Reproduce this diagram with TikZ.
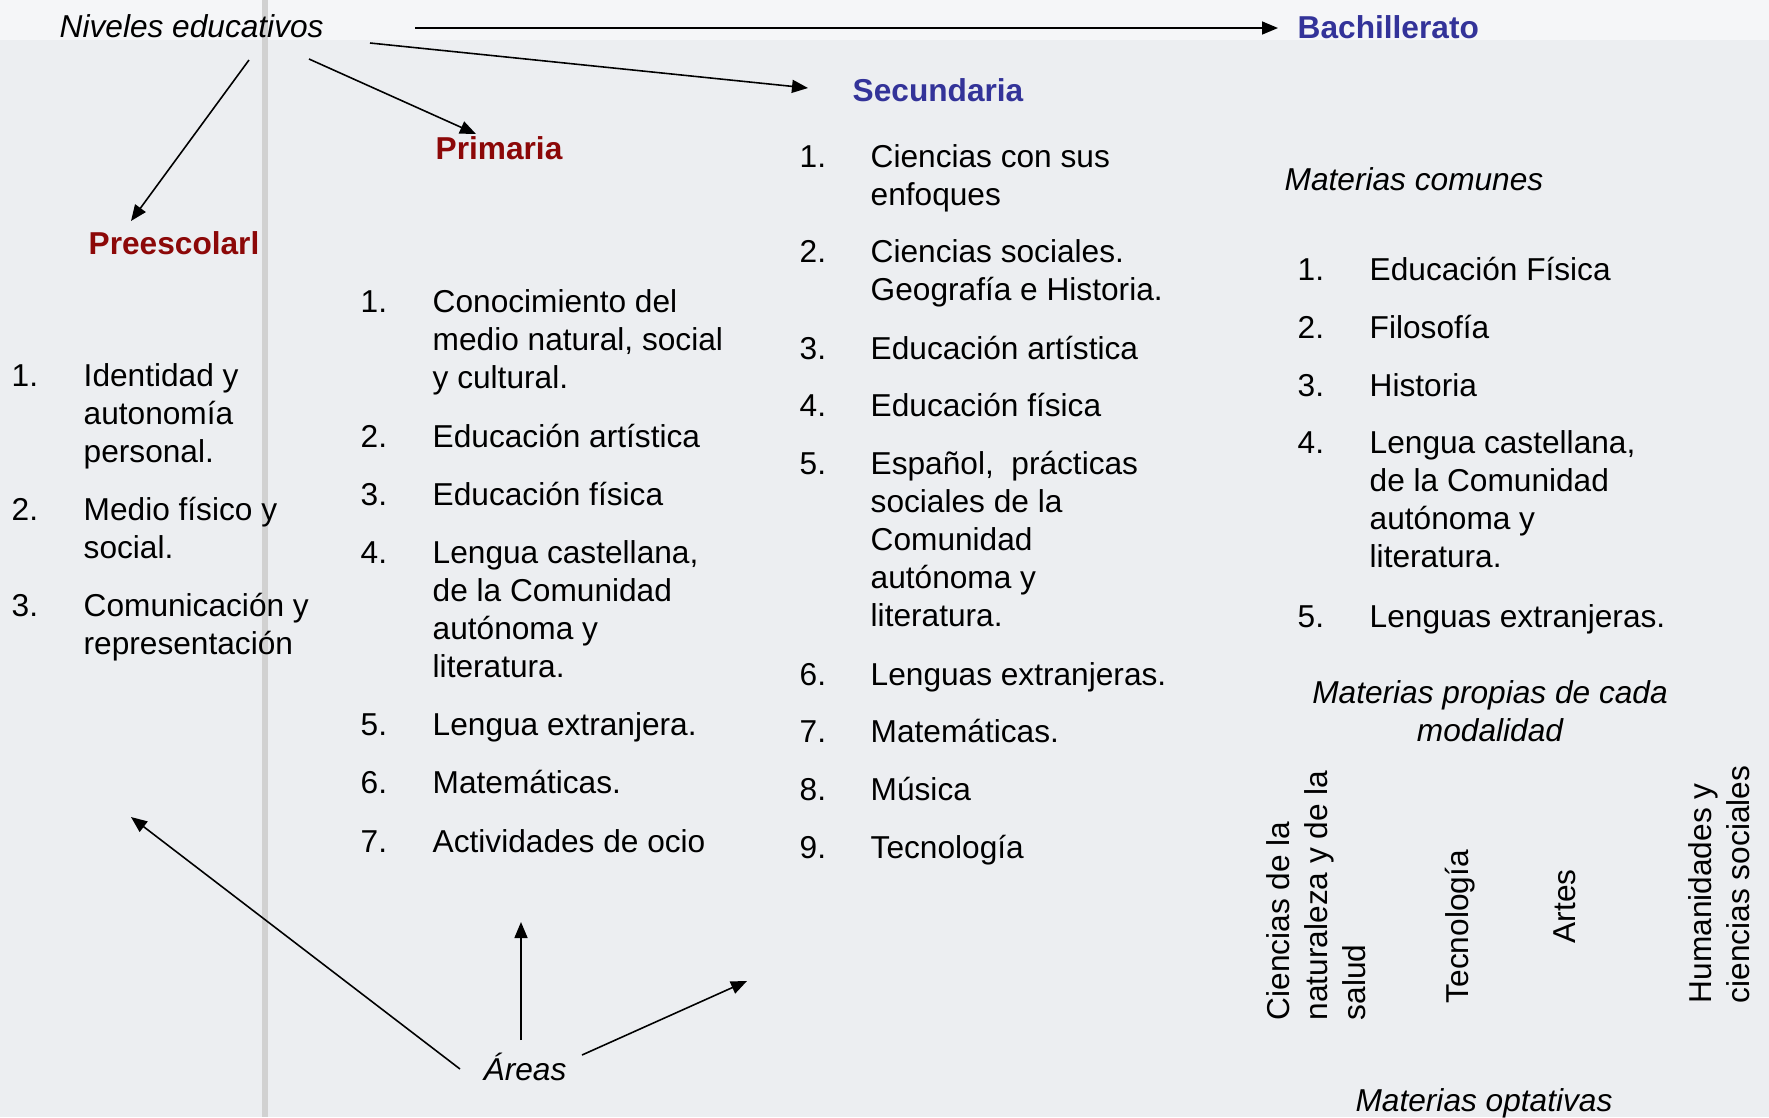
\documentclass[tikz,border=0pt]{standalone}
\usepackage{fontspec}
\setmainfont{Liberation Sans}
\usepackage{tikz}
\usetikzlibrary{arrows.meta}

\definecolor{headred}{RGB}{140,8,8}
\definecolor{headblue}{RGB}{51,51,153}
\definecolor{paper}{RGB}{236,238,241}

\begin{document}
\begin{tikzpicture}[x=0.01cm, y=-0.01cm,
  entry/.style={anchor=base west, align=left, inner sep=0pt, font=\fontsize{9}{10.8}\selectfont},
  level/.style={entry, font=\fontsize{9}{10.8}\selectfont\bfseries},
  note/.style={entry, font=\fontsize{9}{10.8}\selectfont\itshape},
  side/.style={entry, rotate=90},
  arr/.style={line width=0.45pt, -{Triangle[length=1.6mm, width=1.3mm]}}]

% paper (multi-line nodes sit on their last line)
\useasboundingbox (0,0) rectangle (1769,1117);
\fill[paper] (0,0) rectangle (1769,1117);
\fill[white, opacity=0.5] (0,0) rectangle (1769,40);
\draw[black!18, line width=1.5pt] (265,0) -- (265,1117);

% levels
\node[note] (niv) at (59,37) {Niveles educativos};
\node[level, text=headblue] (bach) at (1297,38) {Bachillerato};
\node[level, text=headblue] (sec) at (852,101) {Secundaria};
\node[level, text=headred] (pri) at (435,159) {Primaria};
\node[level, text=headred] (pre) at (88,254) {Preescolarl};

% Preescolar
\node[entry] (pre1n) at (11,386) {1.};
\node[entry] (pre1) at (83,462) {Identidad y\\autonomía\\personal.};
\node[entry] (pre2n) at (11,520) {2.};
\node[entry] (pre2) at (83,558) {Medio físico y\\social.};
\node[entry] (pre3n) at (11,616) {3.};
\node[entry] (pre3) at (83,654) {Comunicación y\\representación};

% Primaria
\node[entry] (pri1n) at (360,312) {1.};
\node[entry] (pri1) at (432,388) {Conocimiento del\\medio natural, social\\y cultural.};
\node[entry] (pri2n) at (360,447) {2.};
\node[entry] (pri2) at (432,447) {Educación artística};
\node[entry] (pri3n) at (360,505) {3.};
\node[entry] (pri3) at (432,505) {Educación física};
\node[entry] (pri4n) at (360,563) {4.};
\node[entry] (pri4) at (432,677) {Lengua castellana,\\de la Comunidad\\autónoma y\\literatura.};
\node[entry] (pri5n) at (360,735) {5.};
\node[entry] (pri5) at (432,735) {Lengua extranjera.};
\node[entry] (pri6n) at (360,793) {6.};
\node[entry] (pri6) at (432,793) {Matemáticas.};
\node[entry] (pri7n) at (360,852) {7.};
\node[entry] (pri7) at (432,852) {Actividades de ocio};

% Secundaria
\node[entry] (sec1n) at (799,167) {1.};
\node[entry] (sec1) at (870,205) {Ciencias con sus\\enfoques};
\node[entry] (sec2n) at (799,262) {2.};
\node[entry] (sec2) at (870,300) {Ciencias sociales.\\Geografía e Historia.};
\node[entry] (sec3n) at (799,359) {3.};
\node[entry] (sec3) at (870,359) {Educación artística};
\node[entry] (sec4n) at (799,416) {4.};
\node[entry] (sec4) at (870,416) {Educación física};
\node[entry] (sec5n) at (799,474) {5.};
\node[entry] (sec5) at (870,626) {Español,\ \ prácticas\\sociales de la\\Comunidad\\autónoma y\\literatura.};
\node[entry] (sec6n) at (799,685) {6.};
\node[entry] (sec6) at (870,685) {Lenguas extranjeras.};
\node[entry] (sec7n) at (799,742) {7.};
\node[entry] (sec7) at (870,742) {Matemáticas.};
\node[entry] (sec8n) at (799,800) {8.};
\node[entry] (sec8) at (870,800) {Música};
\node[entry] (sec9n) at (799,858) {9.};
\node[entry] (sec9) at (870,858) {Tecnología};

% Bachillerato
\node[note] (comunes) at (1284,190) {Materias comunes};
\node[entry] (bach1n) at (1297,280) {1.};
\node[entry] (bach1) at (1369,280) {Educación Física};
\node[entry] (bach2n) at (1297,338) {2.};
\node[entry] (bach2) at (1369,338) {Filosofía};
\node[entry] (bach3n) at (1297,396) {3.};
\node[entry] (bach3) at (1369,396) {Historia};
\node[entry] (bach4n) at (1297,453) {4.};
\node[entry] (bach4) at (1369,567) {Lengua castellana,\\de la Comunidad\\autónoma y\\literatura.};
\node[entry] (bach5n) at (1297,627) {5.};
\node[entry] (bach5) at (1369,627) {Lenguas extranjeras.};
\node[note, anchor=base, align=center] (propias) at (1490,741) {Materias propias de cada\\modalidad};
\node[side] (mod1) at (1365,1021) {Ciencias de la\\naturaleza y de la\\salud};
\node[side] (mod2) at (1468,1004) {Tecnología};
\node[side] (mod3) at (1575,944) {Artes};
\node[side] (mod4) at (1749,1004) {Humanidades y\\ciencias sociales};
\node[note, anchor=base] (optativas) at (1484,1111) {Materias optativas};

\node[note] (areas) at (483,1080) {Áreas};

% arrow ends
\coordinate (n1) at (415,28);
\coordinate (n2) at (370,43);
\coordinate (n3) at (309,59);
\coordinate (n4) at (249,60);
\coordinate (t1) at (1278,28);
\coordinate (t2) at (808,88);
\coordinate (t3) at (476,134);
\coordinate (t4) at (131,221);
\coordinate (a1) at (460,1069);
\coordinate (a2) at (521,1040);
\coordinate (a3) at (582,1055);
\coordinate (u1) at (131,817);
\coordinate (u2) at (521,922);
\coordinate (u3) at (747,981);

\draw[arr] (n1) -- (t1);
\draw[arr] (n2) -- (t2);
\draw[arr] (n3) -- (t3);
\draw[arr] (n4) -- (t4);
\draw[arr] (a1) -- (u1);
\draw[arr] (a2) -- (u2);
\draw[arr] (a3) -- (u3);

\end{tikzpicture}
\end{document}
